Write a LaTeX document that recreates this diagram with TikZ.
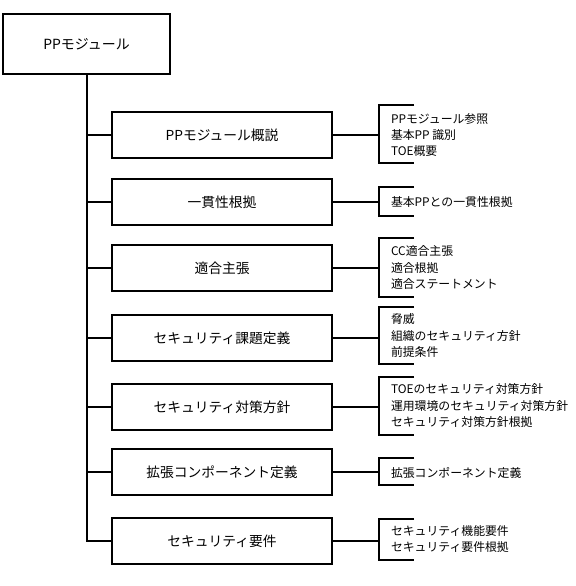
\documentclass[tikz,border=0pt]{standalone}
\usepackage{fontspec}
\setmainfont{Noto Sans CJK JP}
\begin{document}
\begin{tikzpicture}[x=1bp,y=-1bp,line width=2bp,line join=miter,
  mainbox/.style={draw,line width=2.1bp,minimum width=167bp,minimum height=60bp,inner sep=0pt,font=\fontsize{14}{16}\selectfont},
  secbox/.style={draw,line width=2.1bp,minimum width=220bp,minimum height=46bp,inner sep=0pt,font=\fontsize{13.8}{16}\selectfont},
  item/.style={anchor=west,align=left,inner sep=0pt,font=\fontsize{11.9}{16.3}\selectfont},
  brk/.style={line width=2.1bp}]
\useasboundingbox (0,0) rectangle (576,586);
\node[mainbox] (main) at (86.5,44) {PPモジュール};
\foreach \i/\cy/\ty/\t/\b/\lbl/\txt in {
  1/135/135/105/163/{PPモジュール概説}/{PPモジュール参照\\基本PP 識別\\TOE概要},
  2/202/202/187/216/{一貫性根拠}/{基本PPとの一貫性根拠},
  3/268/267.5/238/297/{適合主張}/{CC適合主張\\適合根拠\\適合ステートメント},
  4/338/335.5/307/364/{セキュリティ課題定義}/{脅威\\組織のセキュリティ方針\\前提条件},
  5/407/405.5/377/435/{セキュリティ対策方針}/{TOEのセキュリティ対策方針\\運用環境のセキュリティ対策方針\\セキュリティ対策方針根拠},
  6/472/473/458/485/{拡張コンポーネント定義}/{拡張コンポーネント定義},
  7/541/539/519/560/{セキュリティ要件}/{セキュリティ機能要件\\セキュリティ要件根拠}}{
  \node[secbox] (b\i) at (222,\cy) {\lbl};
  \node[item] (t\i) at (390,\ty) {\txt};
  \coordinate (kt\i) at (379,\t);
  \coordinate (kb\i) at (379,\b);
  \coordinate (ktr\i) at (414,\t);
  \coordinate (kbr\i) at (414,\b);
  \draw (main.south |- b\i.west) -- (b\i.west);
  \draw (b\i.east) -- (b\i.east -| kt\i);
  \draw[brk] (ktr\i) -- (kt\i) -- (kb\i) -- (kbr\i);
}
\draw (main.south) -- (main.south |- b7.west) -- (b7.west);
\end{tikzpicture}
\end{document}
